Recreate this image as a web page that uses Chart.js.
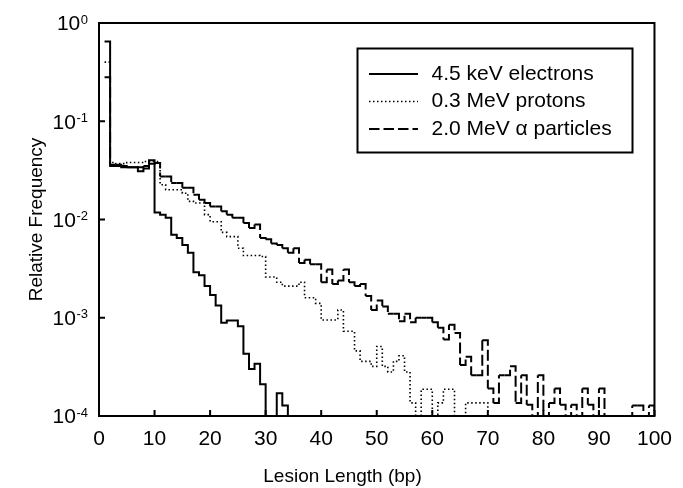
<!DOCTYPE html>
<html>
<head>
<meta charset="utf-8">
<script src="https://cdn.jsdelivr.net/npm/chart.js@4.4.1/dist/chart.umd.min.js"></script>
<style>
  html, body { margin: 0; padding: 0; background: #fff; }
</style>
</head>
<body>
<canvas id="chart" width="683" height="488"></canvas>
<script>
// Relative frequency per lesion length; element i is lesion length i+1 bp.
// 0 means an empty bin (drawn down to the axis floor).
const electrons = [
  0.65, 0.035, 0.035, 0.034, 0.034, 0.034, 0.031, 0.033, 0.040, 0.0118,
  0.0112, 0.0104, 0.0070, 0.0065, 0.0055, 0.0046, 0.0029, 0.0027, 0.0021, 0.0017,
  0.00133, 0.00089, 0.00094, 0.00094, 0.00082, 0.00043, 0.00030, 0.00034, 0.00021, 0,
  0, 0.00017, 0.000128, 0
];

const protons = [
  0.40, 0.038, 0.037, 0.037, 0.038, 0.038, 0.038, 0.039, 0.039, 0.039,
  0.0226, 0.0201, 0.0201, 0.0201, 0.0185, 0.0153, 0.0147, 0.0147, 0.0112, 0.0095,
  0.0095, 0.0074, 0.0067, 0.0067, 0.0051, 0.0043, 0.0043, 0.0043, 0.0042, 0.0026,
  0.0026, 0.0023, 0.0021, 0.0021, 0.0021, 0.0023, 0.0016, 0.0016, 0.0014, 0.00095,
  0.00095, 0.00095, 0.0012, 0.00073, 0.00073, 0.00046, 0.00036, 0.00036, 0.00032, 0.00051,
  0.00032, 0.00028, 0.00036, 0.00041, 0.00028, 0.000136, 0, 0.000187, 0.000187, 0,
  0.000136, 0.000187, 0.000187, 0, 0, 0.000136, 0.000136, 0.000136, 0.000136, 0
];

const alphas = [
  0.28, 0.036, 0.036, 0.035, 0.034, 0.034, 0.034, 0.035, 0.037, 0.0375,
  0.0274, 0.0274, 0.0235, 0.0235, 0.021, 0.021, 0.0179, 0.0159, 0.0147, 0.0136,
  0.0136, 0.0121, 0.0112, 0.0104, 0.0104, 0.0092, 0.0082, 0.0089, 0.0065, 0.0063,
  0.0057, 0.0055, 0.0051, 0.0046, 0.0051, 0.0036, 0.0039, 0.0035, 0.0035, 0.0023,
  0.0031, 0.0022, 0.0024, 0.0031, 0.0023, 0.0021, 0.0022, 0.00166, 0.0012, 0.0015,
  0.0013, 0.0011, 0.0011, 0.00092, 0.0011, 0.00090, 0.0010, 0.0010, 0.0010, 0.00090,
  0.00079, 0.00060, 0.00085, 0.00070, 0.00033, 0.00040, 0.00026, 0.00026, 0.00059, 0.00019,
  0.000136, 0.00026, 0.00026, 0.00032, 0.000136, 0.00026, 0.00013, 0, 0.00026, 0,
  0.000136, 0.00019, 0.00013, 0, 0.00013, 0, 0.00019, 0.00013, 0, 0.00019,
  0, 0, 0, 0, 0, 0.000128, 0.000128, 0, 0.000128
];

const seriesLabels = ['4.5 keV electrons', '0.3 MeV protons', '2.0 MeV \u03b1 particles'];
const xTicks = [0, 10, 20, 30, 40, 50, 60, 70, 80, 90, 100];
const yExponents = [0, -1, -2, -3, -4];
const xTitle = 'Lesion Length (bp)';
const yTitle = 'Relative Frequency';

const FONT = "'Liberation Sans', Arial, Helvetica, sans-serif";
const EMPTY = 1e-6; // below the 1e-4 floor, so empty bins drop out of view

// histogram points: each value holds from its length to the next one
function toSteps(values) {
  const pts = values.map((v, i) => ({ x: i + 1, y: v > 0 ? v : EMPTY }));
  pts.push({ x: values.length + 1, y: EMPTY });
  return pts;
}

const legendDash = [[], [1.5, 2.5], [10.5, 4]];

const frameAndLabels = {
  id: 'frameAndLabels',
  afterDraw(chart) {
    const { ctx, chartArea: a, scales: { x, y } } = chart;
    ctx.save();
    ctx.strokeStyle = '#000';
    ctx.fillStyle = '#000';
    ctx.lineWidth = 2;
    ctx.setLineDash([]);
    ctx.strokeRect(a.left, a.top, a.right - a.left, a.bottom - a.top);

    // inward tick marks
    ctx.beginPath();
    yExponents.forEach(e => {
      const py = y.getPixelForValue(Math.pow(10, e));
      ctx.moveTo(a.left, py);
      ctx.lineTo(a.left + 6, py);
    });
    xTicks.forEach(t => {
      const px = x.getPixelForValue(t);
      ctx.moveTo(px, a.bottom);
      ctx.lineTo(px, a.bottom - 6);
    });
    ctx.stroke();

    // y tick labels as 10 with a raised exponent
    const right = a.left - 11;
    yExponents.forEach(e => {
      const py = y.getPixelForValue(Math.pow(10, e));
      const sup = String(e);
      ctx.font = '13px ' + FONT;
      ctx.textAlign = 'right';
      ctx.textBaseline = 'alphabetic';
      const supW = ctx.measureText(sup).width;
      ctx.fillText(sup, right, py + 0.5);
      ctx.font = '21px ' + FONT;
      ctx.textBaseline = 'middle';
      ctx.fillText('10', right - supW - 0.5, py + 1.5);
    });

    // axis titles
    ctx.font = '19px ' + FONT;
    ctx.textAlign = 'center';
    ctx.textBaseline = 'middle';
    ctx.fillText(xTitle, chart.width / 2 + 1, 477);
    ctx.save();
    ctx.translate(37, (a.top + a.bottom) / 2);
    ctx.rotate(-Math.PI / 2);
    ctx.fillText(yTitle, 0, 0);
    ctx.restore();

    // legend box
    ctx.lineWidth = 2;
    ctx.strokeRect(357.5, 48.5, 275, 104);
    ctx.font = '21px ' + FONT;
    ctx.textAlign = 'left';
    chart.data.datasets.forEach((ds, i) => {
      const ly = 74 + i * 27.5;
      ctx.lineWidth = ds.borderWidth;
      ctx.setLineDash(legendDash[i]);
      ctx.beginPath();
      ctx.moveTo(369, ly);
      ctx.lineTo(418, ly);
      ctx.stroke();
      ctx.setLineDash([]);
      ctx.fillText(ds.label, 431.5, ly);
    });
    ctx.restore();
  }
};

new Chart(document.getElementById('chart'), {
  type: 'line',
  data: {
    datasets: [
      {
        label: seriesLabels[0],
        data: toSteps(electrons),
        borderColor: '#000',
        borderWidth: 2
      },
      {
        label: seriesLabels[1],
        data: toSteps(protons),
        borderColor: '#000',
        borderWidth: 1.6,
        borderDash: [1.5, 2.5]
      },
      {
        label: seriesLabels[2],
        data: toSteps(alphas),
        borderColor: '#000',
        borderWidth: 2,
        borderDash: [11, 4],
        // restart the dash on every bin so short steps stay solid
        segment: {
          borderDashOffset: c => (c.p0DataIndex % 2) * 0.01
        }
      }
    ]
  },
  options: {
    responsive: false,
    animation: false,
    events: [],
    elements: {
      line: { stepped: true, tension: 0, fill: false, borderCapStyle: 'butt' },
      point: { radius: 0, hitRadius: 0 }
    },
    layout: { padding: { left: 0, right: 20, top: 23, bottom: 0 } },
    plugins: {
      legend: { display: false },
      tooltip: { enabled: false }
    },
    scales: {
      x: {
        type: 'linear',
        min: 0,
        max: 100,
        grid: { display: false, drawTicks: false },
        border: { display: false },
        ticks: {
          stepSize: 10,
          color: '#000',
          padding: 11,
          font: { family: FONT, size: 21 }
        },
        afterFit: s => { s.height = 72; }
      },
      y: {
        type: 'logarithmic',
        min: 1e-4,
        max: 1,
        grid: { display: false, drawTicks: false },
        border: { display: false },
        ticks: { display: false },
        afterFit: s => { s.width = 99; }
      }
    }
  },
  plugins: [frameAndLabels]
});
</script>
</body>
</html>
